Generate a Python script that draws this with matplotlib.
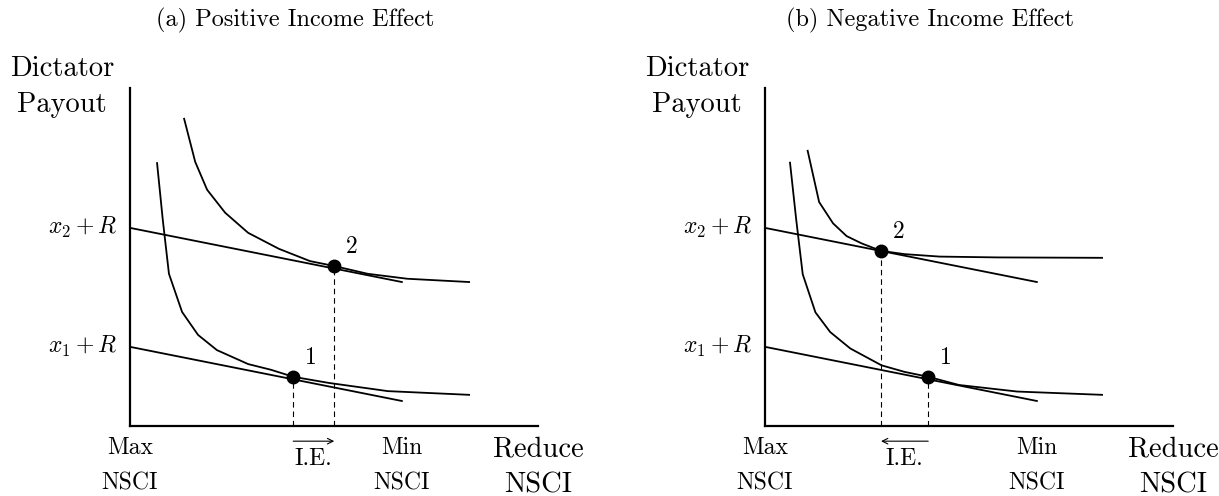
import numpy as np
import matplotlib.pyplot as plt

plt.rcParams['font.family'] = ['cmr10', 'DejaVu Serif']
plt.rcParams['mathtext.fontset'] = 'cm'
plt.rcParams['axes.unicode_minus'] = False

# Achsen: 0..9.9 (horizontal), 0..8.22 (vertikal)
titles = ['(a) Positive Income Effect', '(b) Negative Income Effect']
ytick_vals = [1.93, 4.83]
ytick_labels = [r'$x_1 + R$', r'$x_2 + R$']
min_x = 6.63

# Budgetgeraden (gleich in beiden Panels)
budget_x = [0.0, 6.63]
budget1_y = [1.93, 0.61]
budget2_y = [4.83, 3.51]

# Panel (a): Indifferenzkurven
a_ic1_x = [0.66, 0.80, 0.95, 1.27, 1.66, 2.12, 2.88, 3.44, 3.98, 4.85, 6.29, 8.27]
a_ic1_y = [6.41, 5.02, 3.71, 2.78, 2.22, 1.85, 1.51, 1.37, 1.20, 1.05, 0.85, 0.76]
a_ic2_x = [1.32, 1.59, 1.88, 2.32, 2.88, 3.63, 4.39, 4.98, 5.80, 6.76, 8.27]
a_ic2_y = [7.49, 6.44, 5.76, 5.20, 4.71, 4.32, 4.02, 3.90, 3.71, 3.59, 3.51]
a_pts_x = [3.98, 4.98]
a_pts_y = [1.20, 3.90]

# Panel (b)
b_ic1_x = [0.61, 0.76, 0.92, 1.23, 1.59, 2.08, 2.84, 3.40, 3.98, 4.73, 6.15, 8.22]
b_ic1_y = [6.42, 5.04, 3.70, 2.77, 2.29, 1.89, 1.48, 1.32, 1.20, 1.00, 0.84, 0.76]
b_ic2_x = [1.04, 1.32, 1.66, 1.99, 2.36, 2.83, 3.40, 4.26, 5.67, 8.22]
b_ic2_y = [6.71, 5.46, 4.94, 4.63, 4.45, 4.27, 4.19, 4.13, 4.11, 4.10]
b_pts_x = [3.98, 2.83]
b_pts_y = [1.20, 4.27]

panels = [
    (a_ic1_x, a_ic1_y, a_ic2_x, a_ic2_y, a_pts_x, a_pts_y),
    (b_ic1_x, b_ic1_y, b_ic2_x, b_ic2_y, b_pts_x, b_pts_y),
]

fig = plt.figure(figsize=(12.19, 4.96), dpi=100)
lefts = [130 / 1219, 765 / 1219]
title_x = [295 / 1219, 930 / 1219]

small = 17
big = 20.5

for i, (ic1x, ic1y, ic2x, ic2y, px, py) in enumerate(panels):
    ax = fig.add_axes([lefts[i], 70 / 496, 408 / 1219, 338 / 496])
    ax.set_xlim(0, 9.95)
    ax.set_ylim(0, 8.24)
    for s in ['top', 'right']:
        ax.spines[s].set_visible(False)
    for s in ['left', 'bottom']:
        ax.spines[s].set_linewidth(1.6)

    lw = 1.3
    ax.plot(budget_x, budget1_y, color='black', lw=lw)
    ax.plot(budget_x, budget2_y, color='black', lw=lw)
    ax.plot(ic1x, ic1y, color='black', lw=lw)
    ax.plot(ic2x, ic2y, color='black', lw=lw)

    for x, y in zip(px, py):
        ax.plot([x, x], [0, y], color='black', lw=0.8, ls=(0, (5, 3.5)))
    ax.plot(px, py, 'o', color='black', ms=9, zorder=5)
    ax.text(px[0] + 0.42, py[0] + 0.47, '1', fontsize=small, ha='center', va='center')
    ax.text(px[1] + 0.42, py[1] + 0.47, '2', fontsize=small, ha='center', va='center')

    # Pfeil für den Einkommenseffekt
    ax.annotate('', xy=(px[1], -0.37), xytext=(px[0], -0.37),
                arrowprops=dict(arrowstyle='->', lw=0.8, color='black',
                                shrinkA=0, shrinkB=0),
                annotation_clip=False)
    ax.text((px[0] + px[1]) / 2, -0.8, 'I.E.', fontsize=small, ha='center', va='center')

    ax.set_xticks([])
    ax.set_yticks([])
    for v, lab in zip(ytick_vals, ytick_labels):
        ax.text(-0.29, v, lab, fontsize=small, ha='right', va='center')

    for x, lab in [(0, 'Max'), (min_x, 'Min')]:
        ax.text(x, -0.54, lab, fontsize=small, ha='center', va='center')
        ax.text(x, -1.39, 'NSCI', fontsize=small, ha='center', va='center')
    ax.text(9.95, -0.56, 'Reduce', fontsize=big, ha='center', va='center')
    ax.text(9.95, -1.44, 'NSCI', fontsize=big, ha='center', va='center')

    ax.text(-1.65, 8.71, 'Dictator', fontsize=big, ha='center', va='center')
    ax.text(-1.65, 7.83, 'Payout', fontsize=big, ha='center', va='center')

    fig.text(title_x[i], 1 - 20.5 / 496, titles[i], fontsize=17.5, ha='center', va='center')

fig.savefig('out.png', dpi=100)
